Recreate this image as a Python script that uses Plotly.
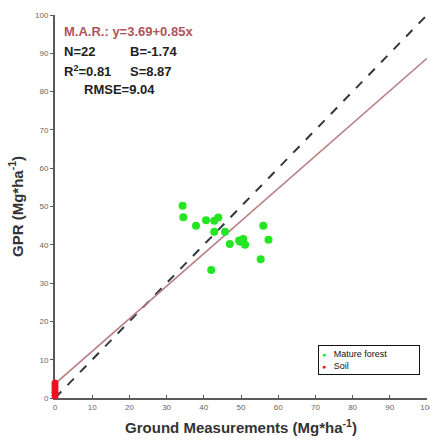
import plotly.graph_objects as go

forest_x = [34.3, 34.5, 37.9, 40.6, 42.8, 43.9, 42.8, 45.7, 47.0, 49.5, 50.6, 51.1, 49.8, 56.0, 57.4, 55.3, 42.0]
forest_y = [50.2, 47.2, 45.0, 46.4, 46.3, 47.1, 43.4, 43.4, 40.2, 41.1, 41.5, 40.0, 40.8, 45.0, 41.3, 36.2, 33.4]
soil_x = [0, 0, 0, 0, 0]
soil_y = [0.6, 1.5, 2.3, 3.1, 3.9]
line_x = [0, 100]
mar_intercept = 3.69
mar_slope = 0.85
ticks = [0, 10, 20, 30, 40, 50, 60, 70, 80, 90, 100]
series_names = ["Mature forest", "Soil"]

mar_y = [mar_intercept + mar_slope * v for v in line_x]

GREEN = "#22e622"
RED = "#ee1122"

fig = go.Figure()
fig.add_trace(go.Scatter(x=line_x, y=line_x, mode="lines",
                         line=dict(color="#33383e", width=2, dash="dash"),
                         showlegend=False, hoverinfo="skip"))
fig.add_trace(go.Scatter(x=line_x, y=mar_y, mode="lines",
                         line=dict(color="#b87c80", width=1.5),
                         showlegend=False, hoverinfo="skip"))
fig.add_trace(go.Scatter(x=forest_x, y=forest_y, mode="markers", name=series_names[0],
                         marker=dict(color=GREEN, size=8), showlegend=False))
fig.add_trace(go.Scatter(x=soil_x, y=soil_y, mode="markers", name=series_names[1],
                         marker=dict(color=RED, size=7), cliponaxis=False, showlegend=False))

axis_common = dict(range=[0, 100], tickvals=ticks, showgrid=False, zeroline=False,
                   showline=True, linecolor="#5a5a5a", linewidth=2,
                   ticklen=3, tickcolor="#5a5a5a", tickwidth=1,
                   ticklabeloverflow="allow", automargin=False, layer="below traces",
                   tickfont=dict(size=8, color="#666", family="Arial"))
fig.update_xaxes(**axis_common, ticks="inside",
                 title=dict(text="<b>Ground Measurements (Mg*ha<sup>-1</sup>)</b>",
                            font=dict(size=15, color="#333", family="Arial"), standoff=12))
fig.update_yaxes(**axis_common, ticks="outside",
                 title=dict(text="<b>GPR (Mg*ha<sup>-1</sup>)</b>",
                            font=dict(size=15, color="#333", family="Arial"), standoff=8))

txt_font = dict(size=13, color="#222", family="Arial")
def ann(x, y, text, color=None):
    f = dict(txt_font)
    if color:
        f["color"] = color
    fig.add_annotation(x=x, y=y, xref="paper", yref="paper", text=text, showarrow=False,
                       xanchor="left", yanchor="middle", font=f)

ann(0.020, 0.958, "<b>M.A.R.: y=3.69+0.85x</b>", "#b0545c")
ann(0.018, 0.905, "<b>N=22</b>")
ann(0.195, 0.905, "<b>B=-1.74</b>")
ann(0.018, 0.853, "<b>R<sup>2</sup>=0.81</b>")
ann(0.195, 0.853, "<b>S=8.87</b>")
ann(0.072, 0.806, "<b>RMSE=9.04</b>")

# compact legend box
legend_text = (f"<span style='color:{GREEN};font-size:7px'>●</span>&nbsp;&nbsp;&nbsp;{series_names[0]}<br>"
               f"<span style='color:{RED};font-size:7px'>●</span>&nbsp;&nbsp;&nbsp;{series_names[1]}")
fig.add_annotation(x=0.707, y=0.139, xref="paper", yref="paper", text=legend_text,
                   showarrow=False, xanchor="left", yanchor="top", align="left",
                   font=dict(size=9, color="#111", family="Arial"),
                   bordercolor="#111", borderwidth=1, borderpad=3, bgcolor="white",
                   width=94)

fig.update_layout(
    width=430, height=441,
    margin=dict(l=55, r=3, t=15, b=43, autoexpand=False),
    plot_bgcolor="white", paper_bgcolor="white",
    showlegend=False,
)
fig.write_html("out.html")
